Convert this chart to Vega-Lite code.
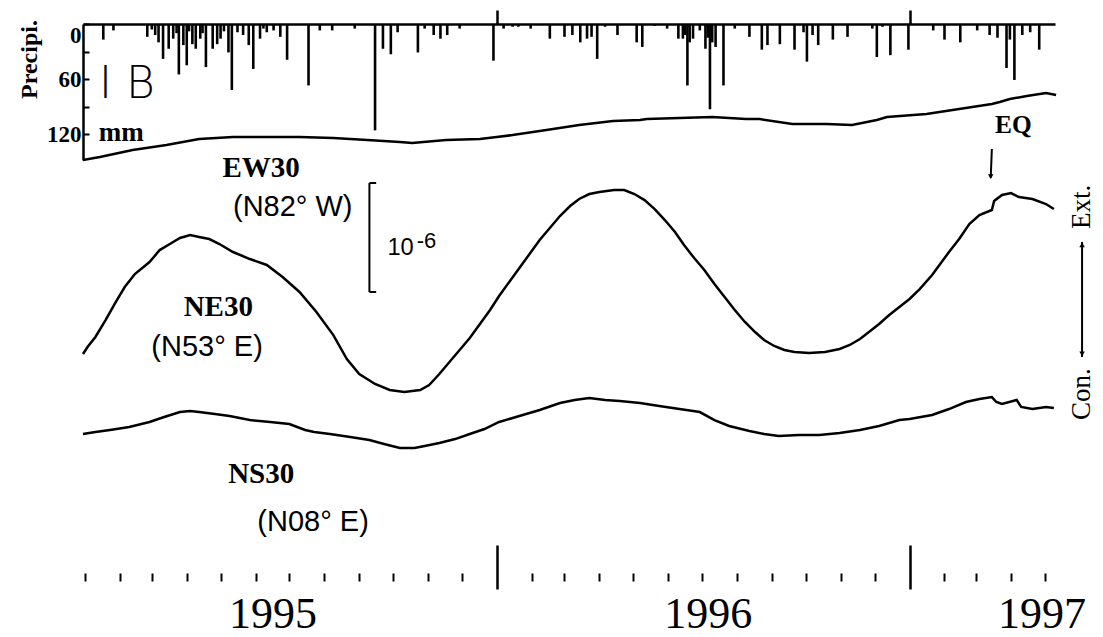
{
"$schema": "https://vega.github.io/schema/vega-lite/v6.json",
"background": "white",
"padding": {"left": 17, "top": 8, "right": 0, "bottom": 0},
"config": {"view": {"stroke": null}, "axis": {"grid": false, "labelColor": "black", "tickColor": "black", "domainColor": "black", "titleColor": "black"}},
"spacing": 0,
"bounds": "flush",
"datasets": {
"precip": [
{"date":"1995-01-17","mm":17},{"date":"1995-01-26","mm":7},{"date":"1995-02-25","mm":14},{"date":"1995-03-01","mm":6},{"date":"1995-03-04","mm":12},{"date":"1995-03-07","mm":20},{"date":"1995-03-11","mm":38},{"date":"1995-03-16","mm":27},{"date":"1995-03-20","mm":16},{"date":"1995-03-23","mm":10},{"date":"1995-03-25","mm":55},{"date":"1995-03-29","mm":23},{"date":"1995-04-01","mm":45},{"date":"1995-04-03","mm":8},{"date":"1995-04-06","mm":22},{"date":"1995-04-09","mm":27},{"date":"1995-04-13","mm":16},{"date":"1995-04-15","mm":10},{"date":"1995-04-18","mm":47},{"date":"1995-04-24","mm":27},{"date":"1995-04-28","mm":22},{"date":"1995-05-01","mm":16},{"date":"1995-05-04","mm":8},{"date":"1995-05-08","mm":31},{"date":"1995-05-11","mm":72},{"date":"1995-05-16","mm":9},{"date":"1995-05-21","mm":12},{"date":"1995-05-26","mm":23},{"date":"1995-05-30","mm":49},{"date":"1995-06-05","mm":16},{"date":"1995-06-08","mm":5},{"date":"1995-06-11","mm":9},{"date":"1995-06-17","mm":7},{"date":"1995-06-23","mm":14},{"date":"1995-06-29","mm":39},{"date":"1995-07-18","mm":67},{"date":"1995-07-28","mm":7},{"date":"1995-08-08","mm":7},{"date":"1995-08-28","mm":5},{"date":"1995-09-15","mm":116},{"date":"1995-09-22","mm":27},{"date":"1995-09-29","mm":33},{"date":"1995-10-05","mm":9},{"date":"1995-10-23","mm":31},{"date":"1995-10-29","mm":5},{"date":"1995-11-06","mm":12},{"date":"1995-11-12","mm":16},{"date":"1995-11-18","mm":12},{"date":"1995-11-29","mm":5},{"date":"1995-12-29","mm":40},
{"date":"1996-01-07","mm":5},{"date":"1996-01-15","mm":3},{"date":"1996-01-20","mm":3},{"date":"1996-01-31","mm":5},{"date":"1996-02-17","mm":16},{"date":"1996-03-01","mm":14},{"date":"1996-03-08","mm":12},{"date":"1996-03-15","mm":20},{"date":"1996-03-21","mm":16},{"date":"1996-03-25","mm":14},{"date":"1996-03-30","mm":38},{"date":"1996-04-06","mm":3},{"date":"1996-04-17","mm":12},{"date":"1996-05-04","mm":20},{"date":"1996-05-09","mm":25},{"date":"1996-05-20","mm":2},{"date":"1996-05-31","mm":5},{"date":"1996-06-10","mm":16},{"date":"1996-06-14","mm":16},{"date":"1996-06-16","mm":12},{"date":"1996-06-18","mm":67},{"date":"1996-06-20","mm":20},{"date":"1996-06-23","mm":16},{"date":"1996-06-29","mm":7},{"date":"1996-07-04","mm":27},{"date":"1996-07-06","mm":15},{"date":"1996-07-08","mm":93},{"date":"1996-07-10","mm":20},{"date":"1996-07-13","mm":25},{"date":"1996-07-20","mm":67},{"date":"1996-07-30","mm":5},{"date":"1996-08-12","mm":14},{"date":"1996-08-23","mm":28},{"date":"1996-08-28","mm":23},{"date":"1996-09-08","mm":22},{"date":"1996-09-21","mm":28},{"date":"1996-09-29","mm":9},{"date":"1996-10-02","mm":41},{"date":"1996-10-07","mm":12},{"date":"1996-10-12","mm":23},{"date":"1996-10-25","mm":17},{"date":"1996-11-07","mm":14},{"date":"1996-11-29","mm":5},{"date":"1996-12-03","mm":36},{"date":"1996-12-08","mm":3},{"date":"1996-12-15","mm":34},{"date":"1996-12-31","mm":28},
{"date":"1997-01-22","mm":7},{"date":"1997-02-01","mm":17},{"date":"1997-02-15","mm":20},{"date":"1997-03-02","mm":7},{"date":"1997-03-13","mm":12},{"date":"1997-03-20","mm":15},{"date":"1997-03-28","mm":48},{"date":"1997-03-31","mm":17},{"date":"1997-04-04","mm":61},{"date":"1997-04-11","mm":12},{"date":"1997-04-18","mm":9},{"date":"1997-04-26","mm":28}
],
"strain": [
{"series":"EW30","date":"1994-12-30","s":3.565},{"series":"EW30","date":"1995-01-14","s":3.593},{"series":"EW30","date":"1995-02-12","s":3.657},{"series":"EW30","date":"1995-03-14","s":3.704},{"series":"EW30","date":"1995-04-12","s":3.759},{"series":"EW30","date":"1995-05-12","s":3.778},{"series":"EW30","date":"1995-06-11","s":3.778},{"series":"EW30","date":"1995-07-10","s":3.778},{"series":"EW30","date":"1995-08-09","s":3.769},{"series":"EW30","date":"1995-09-08","s":3.750},{"series":"EW30","date":"1995-10-07","s":3.731},{"series":"EW30","date":"1995-10-18","s":3.722},{"series":"EW30","date":"1995-11-17","s":3.750},{"series":"EW30","date":"1995-12-17","s":3.759},{"series":"EW30","date":"1996-01-01","s":3.778},{"series":"EW30","date":"1996-01-15","s":3.796},{"series":"EW30","date":"1996-02-14","s":3.843},{"series":"EW30","date":"1996-03-14","s":3.889},{"series":"EW30","date":"1996-04-13","s":3.926},{"series":"EW30","date":"1996-05-07","s":3.935},{"series":"EW30","date":"1996-05-13","s":3.944},{"series":"EW30","date":"1996-06-11","s":3.954},{"series":"EW30","date":"1996-07-10","s":3.963},{"series":"EW30","date":"1996-08-09","s":3.944},{"series":"EW30","date":"1996-08-21","s":3.944},{"series":"EW30","date":"1996-09-19","s":3.898},{"series":"EW30","date":"1996-10-19","s":3.898},{"series":"EW30","date":"1996-11-11","s":3.889},{"series":"EW30","date":"1996-12-03","s":3.935},{"series":"EW30","date":"1996-12-12","s":3.963},{"series":"EW30","date":"1997-01-16","s":3.991},{"series":"EW30","date":"1997-02-14","s":4.037},{"series":"EW30","date":"1997-03-15","s":4.083},{"series":"EW30","date":"1997-03-22","s":4.102},{"series":"EW30","date":"1997-03-31","s":4.130},{"series":"EW30","date":"1997-04-15","s":4.157},{"series":"EW30","date":"1997-05-02","s":4.185},{"series":"EW30","date":"1997-05-11","s":4.167},
{"series":"NE30","date":"1994-12-30","s":1.769},{"series":"NE30","date":"1995-01-03","s":1.833},{"series":"NE30","date":"1995-01-10","s":1.926},{"series":"NE30","date":"1995-01-19","s":2.083},{"series":"NE30","date":"1995-01-28","s":2.250},{"series":"NE30","date":"1995-02-05","s":2.389},{"series":"NE30","date":"1995-02-14","s":2.509},{"series":"NE30","date":"1995-02-27","s":2.620},{"series":"NE30","date":"1995-03-08","s":2.731},{"series":"NE30","date":"1995-03-17","s":2.787},{"series":"NE30","date":"1995-03-26","s":2.843},{"series":"NE30","date":"1995-04-04","s":2.870},{"series":"NE30","date":"1995-04-12","s":2.852},{"series":"NE30","date":"1995-04-21","s":2.833},{"series":"NE30","date":"1995-04-30","s":2.787},{"series":"NE30","date":"1995-05-12","s":2.713},{"series":"NE30","date":"1995-05-27","s":2.648},{"series":"NE30","date":"1995-06-11","s":2.593},{"series":"NE30","date":"1995-06-25","s":2.481},{"series":"NE30","date":"1995-07-10","s":2.343},{"series":"NE30","date":"1995-07-25","s":2.157},{"series":"NE30","date":"1995-08-09","s":1.944},{"series":"NE30","date":"1995-08-21","s":1.722},{"series":"NE30","date":"1995-09-01","s":1.583},{"series":"NE30","date":"1995-09-15","s":1.491},{"series":"NE30","date":"1995-09-28","s":1.435},{"series":"NE30","date":"1995-10-11","s":1.417},{"series":"NE30","date":"1995-10-25","s":1.435},{"series":"NE30","date":"1995-11-02","s":1.481},{"series":"NE30","date":"1995-11-11","s":1.583},{"series":"NE30","date":"1995-11-20","s":1.694},{"series":"NE30","date":"1995-11-29","s":1.806},{"series":"NE30","date":"1995-12-08","s":1.917},{"series":"NE30","date":"1995-12-17","s":2.046},{"series":"NE30","date":"1995-12-26","s":2.176},{"series":"NE30","date":"1996-01-03","s":2.306},{"series":"NE30","date":"1996-01-12","s":2.435},{"series":"NE30","date":"1996-01-21","s":2.565},{"series":"NE30","date":"1996-01-30","s":2.694},{"series":"NE30","date":"1996-02-08","s":2.824},{"series":"NE30","date":"1996-02-17","s":2.935},{"series":"NE30","date":"1996-02-26","s":3.046},{"series":"NE30","date":"1996-03-06","s":3.139},{"series":"NE30","date":"1996-03-14","s":3.204},{"series":"NE30","date":"1996-03-23","s":3.250},{"series":"NE30","date":"1996-04-01","s":3.269},{"series":"NE30","date":"1996-04-14","s":3.287},{"series":"NE30","date":"1996-04-23","s":3.287},{"series":"NE30","date":"1996-05-02","s":3.250},{"series":"NE30","date":"1996-05-11","s":3.194},{"series":"NE30","date":"1996-05-20","s":3.111},{"series":"NE30","date":"1996-05-29","s":3.009},{"series":"NE30","date":"1996-06-07","s":2.898},{"series":"NE30","date":"1996-06-15","s":2.778},{"series":"NE30","date":"1996-06-24","s":2.657},{"series":"NE30","date":"1996-07-03","s":2.546},{"series":"NE30","date":"1996-07-12","s":2.417},{"series":"NE30","date":"1996-07-21","s":2.296},{"series":"NE30","date":"1996-07-30","s":2.176},{"series":"NE30","date":"1996-08-08","s":2.065},{"series":"NE30","date":"1996-08-17","s":1.972},{"series":"NE30","date":"1996-08-25","s":1.898},{"series":"NE30","date":"1996-09-03","s":1.843},{"series":"NE30","date":"1996-09-12","s":1.806},{"series":"NE30","date":"1996-09-21","s":1.787},{"series":"NE30","date":"1996-10-04","s":1.778},{"series":"NE30","date":"1996-10-18","s":1.787},{"series":"NE30","date":"1996-10-31","s":1.815},{"series":"NE30","date":"1996-11-09","s":1.852},{"series":"NE30","date":"1996-11-18","s":1.907},{"series":"NE30","date":"1996-11-26","s":1.972},{"series":"NE30","date":"1996-12-05","s":2.046},{"series":"NE30","date":"1996-12-14","s":2.130},{"series":"NE30","date":"1996-12-23","s":2.204},{"series":"NE30","date":"1997-01-01","s":2.278},{"series":"NE30","date":"1997-01-10","s":2.370},{"series":"NE30","date":"1997-01-21","s":2.500},{"series":"NE30","date":"1997-02-05","s":2.713},{"series":"NE30","date":"1997-02-14","s":2.833},{"series":"NE30","date":"1997-02-23","s":2.972},{"series":"NE30","date":"1997-03-04","s":3.056},{"series":"NE30","date":"1997-03-15","s":3.102},{"series":"NE30","date":"1997-03-17","s":3.185},{"series":"NE30","date":"1997-03-24","s":3.241},{"series":"NE30","date":"1997-04-01","s":3.259},{"series":"NE30","date":"1997-04-08","s":3.222},{"series":"NE30","date":"1997-04-20","s":3.204},{"series":"NE30","date":"1997-05-02","s":3.157},{"series":"NE30","date":"1997-05-09","s":3.111},
{"series":"NS30","date":"1994-12-30","s":1.028},{"series":"NS30","date":"1995-01-10","s":1.046},{"series":"NS30","date":"1995-01-23","s":1.065},{"series":"NS30","date":"1995-02-09","s":1.093},{"series":"NS30","date":"1995-02-27","s":1.139},{"series":"NS30","date":"1995-03-12","s":1.185},{"series":"NS30","date":"1995-03-26","s":1.231},{"series":"NS30","date":"1995-04-04","s":1.241},{"series":"NS30","date":"1995-04-12","s":1.231},{"series":"NS30","date":"1995-04-26","s":1.213},{"series":"NS30","date":"1995-05-09","s":1.194},{"series":"NS30","date":"1995-05-27","s":1.157},{"series":"NS30","date":"1995-06-14","s":1.139},{"series":"NS30","date":"1995-07-01","s":1.120},{"series":"NS30","date":"1995-07-15","s":1.065},{"series":"NS30","date":"1995-07-23","s":1.046},{"series":"NS30","date":"1995-08-06","s":1.028},{"series":"NS30","date":"1995-08-24","s":1.000},{"series":"NS30","date":"1995-09-10","s":0.972},{"series":"NS30","date":"1995-09-23","s":0.935},{"series":"NS30","date":"1995-10-07","s":0.898},{"series":"NS30","date":"1995-10-20","s":0.898},{"series":"NS30","date":"1995-10-29","s":0.917},{"series":"NS30","date":"1995-11-11","s":0.944},{"series":"NS30","date":"1995-11-25","s":0.981},{"series":"NS30","date":"1995-12-08","s":1.028},{"series":"NS30","date":"1995-12-21","s":1.074},{"series":"NS30","date":"1996-01-03","s":1.139},{"series":"NS30","date":"1996-01-21","s":1.194},{"series":"NS30","date":"1996-02-08","s":1.250},{"series":"NS30","date":"1996-02-26","s":1.315},{"series":"NS30","date":"1996-03-10","s":1.343},{"series":"NS30","date":"1996-03-23","s":1.361},{"series":"NS30","date":"1996-04-06","s":1.343},{"series":"NS30","date":"1996-04-19","s":1.333},{"series":"NS30","date":"1996-05-07","s":1.315},{"series":"NS30","date":"1996-05-24","s":1.287},{"series":"NS30","date":"1996-06-11","s":1.259},{"series":"NS30","date":"1996-06-29","s":1.231},{"series":"NS30","date":"1996-07-12","s":1.157},{"series":"NS30","date":"1996-07-25","s":1.102},{"series":"NS30","date":"1996-08-12","s":1.056},{"series":"NS30","date":"1996-08-25","s":1.028},{"series":"NS30","date":"1996-09-07","s":1.009},{"series":"NS30","date":"1996-09-25","s":1.019},{"series":"NS30","date":"1996-10-13","s":1.019},{"series":"NS30","date":"1996-10-31","s":1.037},{"series":"NS30","date":"1996-11-18","s":1.065},{"series":"NS30","date":"1996-12-05","s":1.102},{"series":"NS30","date":"1996-12-23","s":1.157},{"series":"NS30","date":"1997-01-01","s":1.167},{"series":"NS30","date":"1997-01-21","s":1.204},{"series":"NS30","date":"1997-02-05","s":1.259},{"series":"NS30","date":"1997-02-20","s":1.324},{"series":"NS30","date":"1997-03-04","s":1.352},{"series":"NS30","date":"1997-03-15","s":1.370},{"series":"NS30","date":"1997-03-19","s":1.324},{"series":"NS30","date":"1997-03-24","s":1.306},{"series":"NS30","date":"1997-04-06","s":1.343},{"series":"NS30","date":"1997-04-10","s":1.278},{"series":"NS30","date":"1997-04-20","s":1.259},{"series":"NS30","date":"1997-05-02","s":1.278},{"series":"NS30","date":"1997-05-09","s":1.269}
],
"toplab": [
{"kind":"station","date":"1995-02-07","mm":66.5,"text":"I B"},
{"kind":"unit","date":"1995-02-02","mm":118.9,"text":"mm"},
{"kind":"eq","date":"1997-04-03","mm":110,"text":"EQ"}
],
"serif": [
{"date":"1995-06-06","s":3.491,"text":"EW30"},
{"date":"1995-04-29","s":2.204,"text":"NE30"},
{"date":"1995-06-06","s":0.657,"text":"NS30"}
],
"sans": [
{"date":"1995-07-04","s":3.130,"text":"(N82° W)"},
{"date":"1995-04-19","s":1.833,"text":"(N53° E)"},
{"date":"1995-07-22","s":0.213,"text":"(N08° E)"}
],
"scale": [
{"date":"1995-09-26","s":2.750,"text":"10","part":"base"},
{"date":"1995-10-22","s":2.815,"text":"-6","part":"exp"}
],
"segs": [
{"date":"1995-09-10","date2":"1995-09-10","s":3.352,"s2":2.343},
{"date":"1995-09-10","date2":"1995-09-16","s":3.352,"s2":3.352},
{"date":"1995-09-10","date2":"1995-09-16","s":2.343,"s2":2.343},
{"date":"1997-03-15","date2":"1997-03-14","s":3.667,"s2":3.40},
{"date":"1997-06-03","date2":"1997-06-03","s":2.806,"s2":1.741}
],
"heads": [
{"date":"1997-03-14","s":3.41,"dir":"down"},
{"date":"1997-06-03","s":2.78,"dir":"up"},
{"date":"1997-06-03","s":1.77,"dir":"down"}
],
"sense": [
{"date":"1997-06-03","s":3.130,"text":"Ext."},
{"date":"1997-06-03","s":1.398,"text":"Con."}
]
},
"vconcat": [
{
"width": 972, "height": 136,
"resolve": {"scale": {"y": "independent"}, "axis": {"x": "independent", "y": "independent"}},
"layer": [
{"data": {"name": "precip"},
 "mark": {"type": "rule", "strokeWidth": 2.6, "color": "black"},
 "encoding": {
  "x": {"field": "date", "type": "temporal", "scale": {"domain": [{"year":1994,"month":12,"date":30},{"year":1997,"month":5,"date":10}]},
        "axis": {"orient": "top", "values": [{"year":1996,"month":1,"date":1},{"year":1997,"month":1,"date":1}], "tickSize": 14, "tickWidth": 2.5, "domainWidth": 2.5, "labels": false, "title": null}},
  "y": {"field": "mm", "type": "quantitative", "scale": {"domain": [0, 148.3], "reverse": true, "nice": false, "zero": false},
        "axis": {"orient": "left", "values": [0,30,60,90,120], "labelExpr": "datum.value % 60 === 0 ? datum.label : ''", "tickSize": -6, "tickWidth": 2, "domainWidth": 2.5, "labelFont": "Liberation Serif", "labelFontWeight": "bold", "labelFontSize": 23, "labelPadding": 8, "labelFlush": true, "title": "Precipi.", "titleFont": "Liberation Serif", "titleFontWeight": "bold", "titleFontSize": 24, "titlePadding": 5, "titleY": 35}},
  "y2": {"datum": 0}
 }},
{"data": {"name": "strain"},
 "transform": [{"filter": "datum.series === 'EW30'"}],
 "mark": {"type": "line", "strokeWidth": 2.5, "color": "black"},
 "encoding": {
  "x": {"field": "date", "type": "temporal", "scale": {"domain": [{"year":1994,"month":12,"date":30},{"year":1997,"month":5,"date":10}]}, "axis": null},
  "y": {"field": "s", "type": "quantitative", "scale": {"domain": [3.565, 4.824], "nice": false, "zero": false}, "axis": null}
 }},
{"data": {"name": "toplab"},
 "transform": [{"filter": "datum.kind === 'station'"}],
 "mark": {"type": "text", "font": "DejaVu Sans", "fontWeight": 200, "fontSize": 44, "align": "center", "baseline": "middle", "color": "black"},
 "encoding": {
  "x": {"field": "date", "type": "temporal", "scale": {"domain": [{"year":1994,"month":12,"date":30},{"year":1997,"month":5,"date":10}]}, "axis": null},
  "y": {"field": "mm", "type": "quantitative", "scale": {"domain": [0, 148.3], "reverse": true, "nice": false, "zero": false}, "axis": null},
  "text": {"field": "text"}
 }},
{"data": {"name": "toplab"},
 "transform": [{"filter": "datum.kind !== 'station'"}],
 "mark": {"type": "text", "font": "Liberation Serif", "fontWeight": "bold", "align": "center", "baseline": "middle", "color": "black"},
 "encoding": {
  "x": {"field": "date", "type": "temporal", "scale": {"domain": [{"year":1994,"month":12,"date":30},{"year":1997,"month":5,"date":10}]}, "axis": null},
  "y": {"field": "mm", "type": "quantitative", "scale": {"domain": [0, 148.3], "reverse": true, "nice": false, "zero": false}, "axis": null},
  "text": {"field": "text"},
  "size": {"field": "kind", "type": "nominal", "scale": {"domain": ["unit", "eq"], "range": [27, 22]}, "legend": null}
 }}
]
},
{
"width": 972, "height": 385,
"resolve": {"axis": {"x": "independent"}},
"layer": [
{"data": {"name": "strain"},
 "transform": [{"filter": "datum.series !== 'EW30'"}],
 "mark": {"type": "line", "strokeWidth": 2.5, "color": "black"},
 "encoding": {
  "x": {"field": "date", "type": "temporal", "scale": {"domain": [{"year":1994,"month":12,"date":30},{"year":1997,"month":5,"date":10}]},
        "axis": {"orient": "bottom", "values": [{"year":1995,"month":1,"date":1},{"year":1995,"month":2,"date":1},{"year":1995,"month":3,"date":1},{"year":1995,"month":4,"date":1},{"year":1995,"month":5,"date":1},{"year":1995,"month":6,"date":1},{"year":1995,"month":7,"date":1},{"year":1995,"month":8,"date":1},{"year":1995,"month":9,"date":1},{"year":1995,"month":10,"date":1},{"year":1995,"month":11,"date":1},{"year":1995,"month":12,"date":1},{"year":1996,"month":2,"date":1},{"year":1996,"month":3,"date":1},{"year":1996,"month":4,"date":1},{"year":1996,"month":5,"date":1},{"year":1996,"month":6,"date":1},{"year":1996,"month":7,"date":1},{"year":1996,"month":8,"date":1},{"year":1996,"month":9,"date":1},{"year":1996,"month":10,"date":1},{"year":1996,"month":11,"date":1},{"year":1996,"month":12,"date":1},{"year":1997,"month":2,"date":1},{"year":1997,"month":3,"date":1},{"year":1997,"month":4,"date":1},{"year":1997,"month":5,"date":1}],
                 "offset": 28, "tickSize": 8, "tickWidth": 2, "domain": false, "labels": false, "title": null}},
  "y": {"field": "s", "type": "quantitative", "scale": {"domain": [0, 3.565], "nice": false, "zero": false}, "axis": null},
  "detail": {"field": "series"}
 }},
{"data": {"name": "serif"},
 "mark": {"type": "text", "font": "Liberation Serif", "fontWeight": "bold", "fontSize": 29, "align": "center", "baseline": "middle", "color": "black"},
 "encoding": {
  "x": {"field": "date", "type": "temporal", "scale": {"domain": [{"year":1994,"month":12,"date":30},{"year":1997,"month":5,"date":10}]},
        "axis": {"orient": "bottom", "values": [{"year":1996,"month":1,"date":1},{"year":1997,"month":1,"date":1}], "tickSize": 44, "tickWidth": 2.5, "domain": false, "labels": false, "title": null}},
  "y": {"field": "s", "type": "quantitative", "scale": {"domain": [0, 3.565], "nice": false, "zero": false}, "axis": null},
  "text": {"field": "text"}
 }},
{"data": {"name": "sans"},
 "mark": {"type": "text", "font": "Liberation Sans", "fontSize": 29, "align": "center", "baseline": "middle", "color": "black"},
 "encoding": {
  "x": {"field": "date", "type": "temporal", "scale": {"domain": [{"year":1994,"month":12,"date":30},{"year":1997,"month":5,"date":10}]},
        "axis": {"orient": "bottom", "values": [{"year":1995,"month":6,"date":16},{"year":1996,"month":7,"date":6},{"year":1997,"month":4,"date":28}], "labelExpr": "timeFormat(datum.value, '%Y')", "ticks": false, "tickSize": 0, "domain": false, "labelFont": "Liberation Serif", "labelFontSize": 44, "labelPadding": 47, "labelFlush": false, "labelOverlap": false, "title": null}},
  "y": {"field": "s", "type": "quantitative", "scale": {"domain": [0, 3.565], "nice": false, "zero": false}, "axis": null},
  "text": {"field": "text"}
 }},
{"data": {"name": "scale"},
 "mark": {"type": "text", "font": "Liberation Sans", "align": "left", "baseline": "middle", "color": "black"},
 "encoding": {
  "x": {"field": "date", "type": "temporal", "scale": {"domain": [{"year":1994,"month":12,"date":30},{"year":1997,"month":5,"date":10}]}, "axis": null},
  "y": {"field": "s", "type": "quantitative", "scale": {"domain": [0, 3.565], "nice": false, "zero": false}, "axis": null},
  "text": {"field": "text"},
  "size": {"field": "part", "type": "nominal", "scale": {"domain": ["base", "exp"], "range": [22, 17]}, "legend": null}
 }},
{"data": {"name": "segs"},
 "mark": {"type": "rule", "strokeWidth": 2, "color": "black"},
 "encoding": {
  "x": {"field": "date", "type": "temporal", "scale": {"domain": [{"year":1994,"month":12,"date":30},{"year":1997,"month":5,"date":10}]}, "axis": null},
  "x2": {"field": "date2"},
  "y": {"field": "s", "type": "quantitative", "scale": {"domain": [0, 3.565], "nice": false, "zero": false}, "axis": null},
  "y2": {"field": "s2"}
 }},
{"data": {"name": "heads"},
 "mark": {"type": "point", "filled": true, "color": "black", "size": 30, "opacity": 1},
 "encoding": {
  "x": {"field": "date", "type": "temporal", "scale": {"domain": [{"year":1994,"month":12,"date":30},{"year":1997,"month":5,"date":10}]}, "axis": null},
  "y": {"field": "s", "type": "quantitative", "scale": {"domain": [0, 3.565], "nice": false, "zero": false}, "axis": null},
  "shape": {"field": "dir", "type": "nominal", "scale": {"domain": ["up", "down"], "range": ["triangle-up", "triangle-down"]}, "legend": null}
 }},
{"data": {"name": "sense"},
 "mark": {"type": "text", "font": "Liberation Serif", "fontSize": 27, "angle": 270, "align": "center", "baseline": "middle", "color": "black"},
 "encoding": {
  "x": {"field": "date", "type": "temporal", "scale": {"domain": [{"year":1994,"month":12,"date":30},{"year":1997,"month":5,"date":10}]}, "axis": null},
  "y": {"field": "s", "type": "quantitative", "scale": {"domain": [0, 3.565], "nice": false, "zero": false}, "axis": null},
  "text": {"field": "text"}
 }}
]
}
]
}
